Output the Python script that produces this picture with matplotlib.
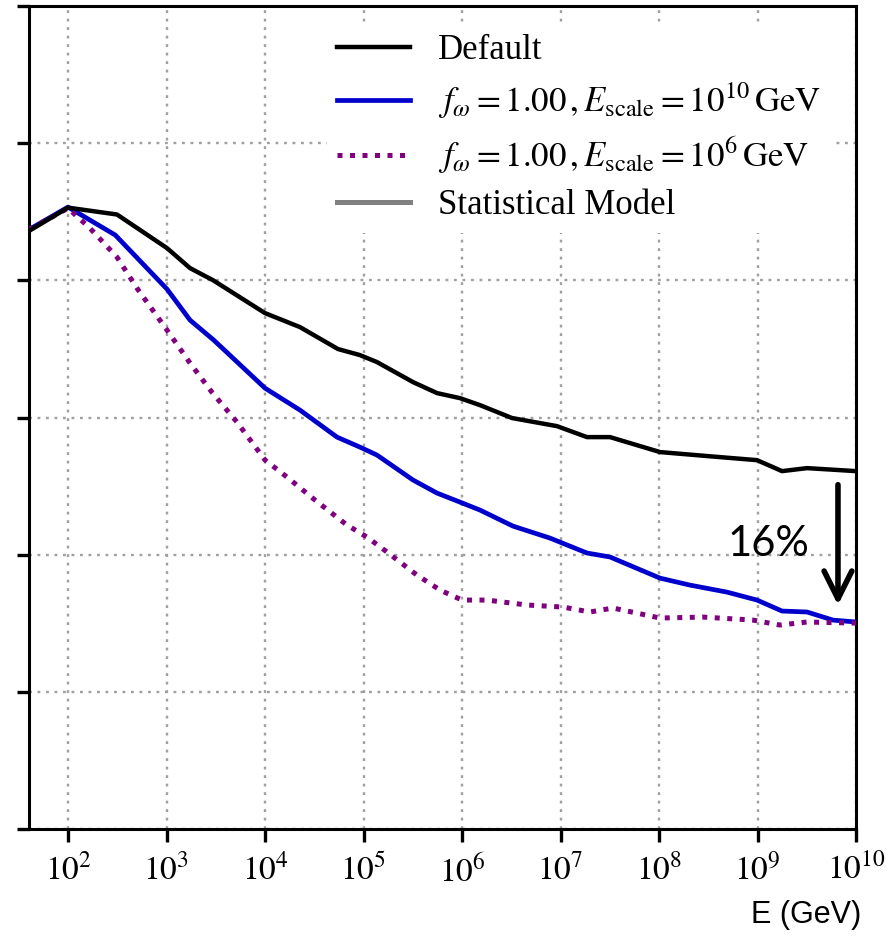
import numpy as np
import matplotlib
matplotlib.use("Agg")
import matplotlib.pyplot as plt

plt.rcParams['mathtext.fontset'] = 'stix'
plt.rcParams['font.family'] = ['Liberation Serif', 'DejaVu Serif']

# log10(E / GeV) and curve values
lg_default = [1.604, 2.0, 2.497, 3.005, 3.239, 3.472, 4.0, 4.355, 4.741, 4.964, 5.137,
              5.503, 5.746, 5.98, 6.183, 6.508, 6.964, 7.269, 7.503, 8.01, 8.487, 8.995,
              9.249, 9.503, 10.0]
y_default = [4.36, 4.53, 4.48, 4.235, 4.089, 4.001, 3.761, 3.659, 3.499, 3.455, 3.404,
             3.258, 3.178, 3.141, 3.09, 2.996, 2.937, 2.857, 2.857, 2.748, 2.719, 2.689,
             2.609, 2.631, 2.609]

lg_e10 = [1.604, 2.0, 2.48, 3.005, 3.239, 3.48, 4.0, 4.355, 4.731, 4.964, 5.137, 5.503,
          5.746, 5.98, 6.183, 6.518, 6.893, 7.269, 7.503, 8.01, 8.315, 8.69, 8.995, 9.249,
          9.503, 9.766, 10.0]
y_e10 = [4.37, 4.534, 4.33, 3.936, 3.71, 3.564, 3.214, 3.054, 2.857, 2.784, 2.726, 2.544,
         2.449, 2.383, 2.325, 2.208, 2.121, 2.012, 1.983, 1.829, 1.778, 1.727, 1.669, 1.589,
         1.582, 1.523, 1.509]

lg_e6 = [1.604, 2.0, 2.223, 2.497, 2.7, 3.005, 3.239, 3.46, 3.716, 4.0, 4.223, 4.508,
         4.832, 5.036, 5.239, 5.543, 5.777, 6.0, 6.254, 6.66, 7.025, 7.3, 7.533, 8.01,
         8.447, 8.954, 9.228, 9.503, 10.0]
y_e6 = [4.37, 4.526, 4.38, 4.169, 3.943, 3.637, 3.397, 3.185, 2.966, 2.69, 2.566, 2.398,
        2.216, 2.128, 2.019, 1.851, 1.742, 1.669, 1.669, 1.633, 1.618, 1.582, 1.611, 1.538,
        1.545, 1.523, 1.487, 1.509, 1.501]

xtick_exp = [2, 3, 4, 5, 6, 7, 8, 9, 10]

fig = plt.figure(figsize=(8.94, 9.40), dpi=100)
ax = fig.add_axes([29 / 894, 111 / 940, 827 / 894, 823 / 940])

E = lambda lg: 10 ** np.asarray(lg)

ax.plot(E(lg_default), y_default, color='black', lw=3.2, label='Default', zorder=4)
ax.plot(E(lg_e10), y_e10, color='#0000cc', lw=3.4,
        label=r'$f_\omega = 1.00\,, E_{\rm scale} = 10^{10}\,\rm GeV$', zorder=3)
ax.plot(E(lg_e6), y_e6, color='#800080', lw=3.6, ls=(0, (1, 1.5)),
        label=r'$f_\omega = 1.00\,, E_{\rm scale} = 10^{6}\,\rm GeV$', zorder=3)
ax.plot([], [], color='#808080', lw=3.6, label='Statistical Model')

ax.set_xscale('log')
ax.set_xlim(10 ** 1.604, 1e10)
ax.set_ylim(0, 6)
ax.set_xticks([10.0 ** k for k in xtick_exp])
ax.set_xticklabels([r'$10^{%d}$' % k for k in xtick_exp])
ax.xaxis.set_minor_locator(matplotlib.ticker.NullLocator())
ax.set_yticks(range(7))
ax.set_yticklabels([])
ax.tick_params(axis='both', direction='out', length=9, width=2.4, labelsize=24, pad=9)

for s in ax.spines.values():
    s.set_linewidth(2.2)

ax.grid(True, color='#a0a0a0', lw=1.7, ls=(0, (1.2, 2.4)))
ax.set_axisbelow(True)

leg = ax.legend(loc='upper left', bbox_to_anchor=(0.36, 0.979), frameon=True,
                fontsize=25, handlelength=2.1, labelspacing=0.39, borderaxespad=0,
                handletextpad=0.8, borderpad=0.3)
leg.get_frame().set_edgecolor('none')
leg.get_frame().set_facecolor('white')
leg.get_frame().set_alpha(1)

ax.annotate('', xy=(10 ** 9.817, 1.633), xytext=(10 ** 9.817, 2.51),
            arrowprops=dict(arrowstyle='->,head_length=1.0,head_width=0.5',
                            mutation_scale=20, color='black', lw=4,
                            shrinkA=0, shrinkB=0), zorder=6)
ax.text(10 ** 9.107, 2.08, '16%', family=['Lato', 'DejaVu Sans'], fontsize=30,
        ha='center', va='center', zorder=6)

fig.text(806 / 894, 1 - 915 / 940, 'E (GeV)', family=['Liberation Sans', 'DejaVu Sans'],
         fontsize=22, ha='center', va='center')

fig.savefig('out.png', dpi=100)
